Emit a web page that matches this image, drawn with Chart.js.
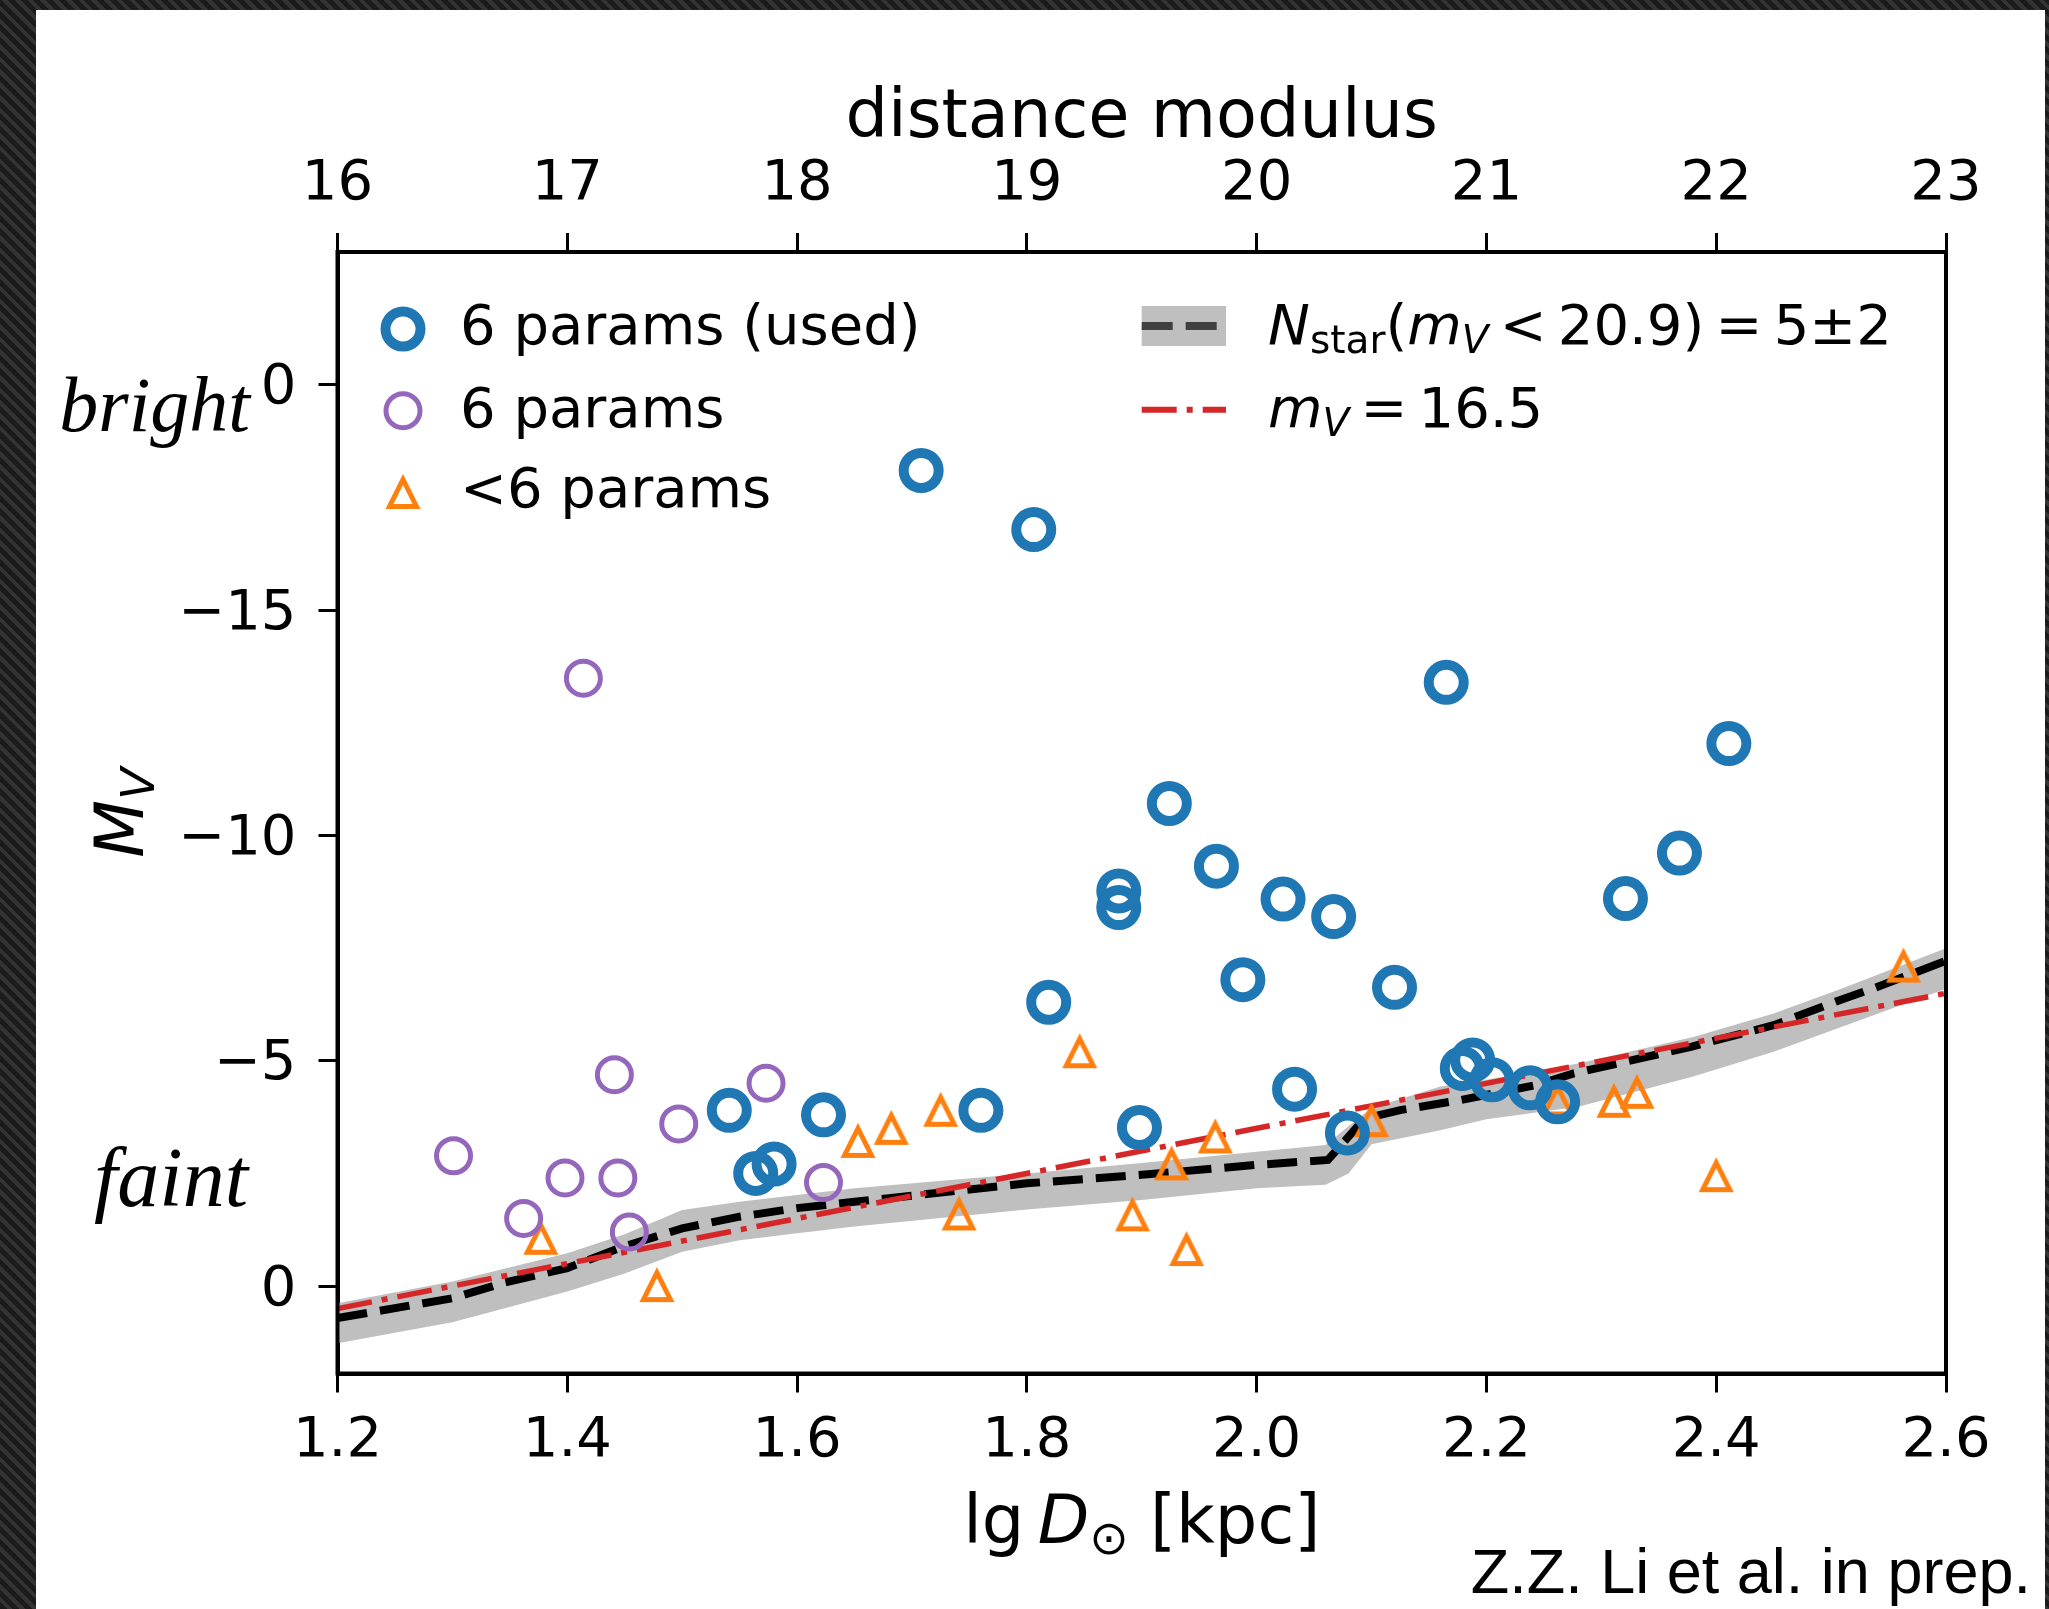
<!DOCTYPE html>
<html>
<head>
<meta charset="utf-8">
<script src="https://cdn.jsdelivr.net/npm/chart.js@4.4.0/dist/chart.umd.min.js"></script>
<style>
  html, body { margin: 0; padding: 0; }
  body {
    width: 2049px; height: 1609px; overflow: hidden;
    background: repeating-linear-gradient(45deg, #1b1b1b 0 5px, #333 5px 9px);
  }
  #wrap { position: absolute; left: 36px; top: 10px; width: 2009px; height: 1599px; background: #fff; }
</style>
</head>
<body>
<div id="wrap"><canvas id="mvChart" width="2009" height="1599"></canvas></div>
<script>
// satellites: lg D (kpc) and absolute magnitude M_V
const usedLgD = [1.708, 1.806, 2.165, 2.411, 1.924, 1.965, 2.368, 1.880, 1.880, 2.023, 2.067, 2.321, 1.988, 2.120,
                 1.819, 1.541, 1.623, 1.760, 1.564, 1.580, 1.898, 2.033, 2.079, 2.179, 2.188, 2.205, 2.238, 2.262];
const usedMV  = [-18.10, -16.79, -13.40, -12.04, -10.71, -9.32, -9.61, -8.77, -8.40, -8.59, -8.20, -8.60, -6.80, -6.63,
                 -6.30, -3.90, -3.80, -3.90, -2.50, -2.71, -3.52, -4.37, -3.40, -4.83, -5.02, -4.58, -4.40, -4.09];

const sixLgD = [1.301, 1.441, 1.497, 1.573, 1.398, 1.444, 1.362, 1.454, 1.623, 1.414];
const sixMV  = [-2.89, -4.69, -3.60, -4.50, -2.40, -2.40, -1.50, -1.20, -2.30, -13.49];

const fewLgD = [1.377, 1.478, 1.653, 1.682, 1.725, 1.741, 1.846, 1.892, 1.926, 1.939, 1.964, 2.100, 2.262, 2.311, 2.331, 2.400, 2.563];
const fewMV  = [-1.05, 0.00, -3.20, -3.49, -3.89, -1.59, -5.19, -1.57, -2.70, -0.80, -3.30, -3.66, -4.12, -4.09, -4.29, -2.44, -7.09];

// N_star(m_V < 20.9) = 5 curve and its +-2 band
const nstarLgD = [1.2, 1.3, 1.346, 1.4, 1.447, 1.5, 1.55, 1.6, 1.65, 1.8, 1.9, 2.0, 2.062, 2.094, 2.126, 2.178, 2.243,
                  2.276, 2.378, 2.45, 2.508, 2.537, 2.6];
const nstarMV  = [0.71, 0.27, -0.08, -0.40, -0.86, -1.28, -1.54, -1.73, -1.87, -2.28, -2.47, -2.69, -2.80, -3.72, -3.91, -4.13, -4.46,
                  -4.72, -5.31, -5.79, -6.35, -6.61, -7.22];
const bandLgD    = [1.2, 1.3, 1.4, 1.45, 1.5, 1.55, 1.6, 1.65, 1.8, 1.9, 2.0, 2.06, 2.08, 2.1, 2.16, 2.2, 2.28, 2.38, 2.45, 2.51, 2.6];
const bandBright = [0.38, -0.10, -0.73, -1.15, -1.69, -1.87, -2.02, -2.17, -2.50, -2.73, -2.98, -3.13, -3.55, -3.95, -4.43, -4.58, -4.94, -5.53, -6.05, -6.61, -7.50];
const bandFaint  = [1.27, 0.80, 0.12, -0.28, -0.76, -1.02, -1.17, -1.32, -1.70, -1.91, -2.17, -2.25, -2.50, -3.15, -3.46, -3.70, -3.98, -4.65, -5.20, -5.76, -6.60];

// m_V = 16.5 limit
const limLgD = [1.2, 2.6];
const limMV  = [0.5, -6.5];

const xTicks  = [1.2, 1.4, 1.6, 1.8, 2.0, 2.2, 2.4, 2.6];
const dmTicks = [16, 17, 18, 19, 20, 21, 22, 23];
const yTicks  = [-20, -15, -10, -5, 0];

const pts = (xs, ys) => xs.map((x, i) => ({ x: x, y: ys[i] }));

function makeTriangle() {
  const c = document.createElement('canvas');
  c.width = 48; c.height = 48;
  const g = c.getContext('2d');
  g.strokeStyle = '#ff7f0e';
  g.lineWidth = 5;
  g.lineJoin = 'miter';
  g.beginPath();
  g.moveTo(24, 24 - 13.5);
  g.lineTo(24 + 13.5, 24 + 13.5);
  g.lineTo(24 - 13.5, 24 + 13.5);
  g.closePath();
  g.stroke();
  return c;
}
const triangle = makeTriangle();

// text with italic parts and subscripts, like matplotlib mathtext
function richText(ctx, parts, x, y, size, align) {
  const fonts = parts.map(p => {
    const sub = p[1].indexOf('s') >= 0, it = p[1].indexOf('i') >= 0;
    return (it ? 'italic ' : '') + Math.round(sub ? size * 0.7 : size) + 'px "DejaVu Sans"';
  });
  const widths = parts.map((p, i) => { ctx.font = fonts[i]; return ctx.measureText(p[0]).width; });
  const total = widths.reduce((a, b) => a + b, 0);
  let cx = align === 'center' ? x - total / 2 : x;
  ctx.textAlign = 'left';
  ctx.textBaseline = 'alphabetic';
  parts.forEach((p, i) => {
    ctx.font = fonts[i];
    const dy = p[1].indexOf('s') >= 0 ? size * 0.16 : 0;
    ctx.fillText(p[0], cx, y + dy);
    cx += widths[i];
  });
}

const decorations = {
  id: 'decorations',
  afterDraw(chart) {
    const ctx = chart.ctx, a = chart.chartArea;
    const midX = (a.left + a.right) / 2, midY = (a.top + a.bottom) / 2;
    ctx.save();
    ctx.fillStyle = '#000';

    // frame
    ctx.strokeStyle = '#000';
    ctx.lineWidth = 4;
    ctx.strokeRect(a.left, a.top, a.right - a.left, a.bottom - a.top);

    // axis titles
    richText(ctx, [['distance modulus', '']], midX, 126.7, 67, 'center');
    richText(ctx, [['lg', ''], ['\u2009', ''], ['D', 'i'], ['\u2299', 's'], [' [kpc]', '']], midX, 1533, 67, 'center');
    ctx.save();
    ctx.translate(107, midY);
    ctx.rotate(-Math.PI / 2);
    richText(ctx, [['M', 'i'], ['V', 'si']], 0, 0, 67, 'center');
    ctx.restore();

    // bright / faint, the white box hides part of the top tick label
    const ys = chart.scales.y;
    const labRight = ys.right - 19 - 22;
    ctx.font = '56px "DejaVu Sans"';
    const w0 = ctx.measureText('0').width;
    const yTop = ys.getPixelForValue(-20);
    ctx.fillStyle = '#fff';
    ctx.fillRect(0, yTop - 40, labRight - w0 - 2, 80);
    ctx.fillStyle = '#000';
    ctx.font = 'italic 78px "Liberation Serif"';
    ctx.textAlign = 'right';
    ctx.textBaseline = 'alphabetic';
    ctx.fillText('bright', 214, 421);
    ctx.font = 'italic 84px "Liberation Serif"';
    ctx.fillText('faint', 212, 1196);

    // credit
    ctx.font = '63px "Liberation Sans"';
    ctx.fillText('Z.Z. Li et al. in prep.', 1995, 1583);

    // legend, left column
    const lx = 367, tx = 424;
    ctx.lineWidth = 10;
    ctx.strokeStyle = '#1f77b4';
    ctx.beginPath(); ctx.arc(lx, 319, 17.5, 0, Math.PI * 2); ctx.stroke();
    ctx.lineWidth = 5;
    ctx.strokeStyle = '#9467bd';
    ctx.beginPath(); ctx.arc(lx, 400.7, 17, 0, Math.PI * 2); ctx.stroke();
    ctx.drawImage(triangle, lx - 24, 483 - 24);
    ctx.fillStyle = '#000';
    richText(ctx, [['6 params (used)', '']], tx, 334, 56, 'left');
    richText(ctx, [['6 params', '']], tx, 416.7, 56, 'left');
    richText(ctx, [['<6 params', '']], tx, 496.7, 56, 'left');

    // legend, right column
    ctx.fillStyle = '#bfbfbf';
    ctx.fillRect(1105.7, 296, 84.3, 40);
    ctx.strokeStyle = '#404040';
    ctx.lineWidth = 8;
    ctx.setLineDash([31, 13]);
    ctx.beginPath(); ctx.moveTo(1105.7, 316); ctx.lineTo(1190, 316); ctx.stroke();
    ctx.strokeStyle = '#d62728';
    ctx.lineWidth = 6;
    ctx.setLineDash([35, 10, 6, 10]);
    ctx.beginPath(); ctx.moveTo(1105.7, 399.7); ctx.lineTo(1190, 399.7); ctx.stroke();
    ctx.setLineDash([]);
    ctx.fillStyle = '#000';
    const th = '\u2009';
    richText(ctx, [['N', 'i'], ['star', 's'], ['(', ''], ['m', 'i'], ['V', 'si'], [th + '<' + th + '20.9)' + th + '=' + th + '5\u00b12', '']], 1232, 334, 56, 'left');
    richText(ctx, [['m', 'i'], ['V', 'si'], [th + '=' + th + '16.5', '']], 1232, 416.7, 56, 'left');
    ctx.restore();
  }
};

const tickFont = { family: 'DejaVu Sans', size: 56 };
const gridOpts = { display: true, drawOnChartArea: false, drawTicks: true, tickLength: 19, tickWidth: 3, lineWidth: 3, color: '#000' };
const borderOpts = { display: true, color: '#000', width: 4 };

new Chart(document.getElementById('mvChart').getContext('2d'), {
  type: 'scatter',
  data: {
    datasets: [
      { label: '6 params (used)', data: pts(usedLgD, usedMV), order: 0,
        pointStyle: 'circle', pointRadius: 17.5, borderWidth: 10, borderColor: '#1f77b4', backgroundColor: 'rgba(0,0,0,0)' },
      { label: '6 params', data: pts(sixLgD, sixMV), order: 1,
        pointStyle: 'circle', pointRadius: 17, borderWidth: 5, borderColor: '#9467bd', backgroundColor: 'rgba(0,0,0,0)' },
      { label: '<6 params', data: pts(fewLgD, fewMV), order: 2,
        pointStyle: triangle, pointRadius: 18 },
      { type: 'line', label: 'm_V = 16.5', data: pts(limLgD, limMV), order: 3,
        borderColor: '#d62728', borderWidth: 5.5, borderDash: [35, 10, 6, 10], pointRadius: 0, fill: false, tension: 0 },
      { type: 'line', label: 'N_star = 5', data: pts(nstarLgD, nstarMV), order: 4,
        borderColor: '#000', borderWidth: 8, borderDash: [30, 13], pointRadius: 0, fill: false, tension: 0 },
      { type: 'line', label: 'N_star = 7', data: pts(bandLgD, bandBright), order: 5,
        borderColor: 'rgba(0,0,0,0)', borderWidth: 1, pointRadius: 0, fill: false, tension: 0 },
      { type: 'line', label: 'N_star = 3', data: pts(bandLgD, bandFaint), order: 6,
        borderColor: 'rgba(0,0,0,0)', borderWidth: 1, pointRadius: 0, fill: '-1', backgroundColor: '#bfbfbf', tension: 0 }
    ]
  },
  options: {
    responsive: false,
    devicePixelRatio: 1,
    animation: false,
    events: [],
    layout: { padding: { left: 0, top: 0, right: 99, bottom: 0 } },
    plugins: { legend: { display: false }, tooltip: { enabled: false } },
    scales: {
      x: {
        type: 'linear', position: 'bottom', min: 1.2, max: 2.6,
        afterBuildTicks: s => { s.ticks = xTicks.map(v => ({ value: v })); },
        afterFit: s => { s.height = 235.5; },
        ticks: { font: tickFont, color: '#000', padding: 15, maxRotation: 0, autoSkip: false, callback: v => v.toFixed(1) },
        grid: gridOpts, border: borderOpts
      },
      x2: {
        type: 'linear', axis: 'x', position: 'top', min: 16, max: 23,
        afterBuildTicks: s => { s.ticks = dmTicks.map(v => ({ value: v })); },
        afterFit: s => { s.height = 242; },
        ticks: { font: tickFont, color: '#000', padding: 15, maxRotation: 0, autoSkip: false, callback: v => String(v) },
        grid: gridOpts, border: borderOpts
      },
      y: {
        type: 'linear', position: 'left', reverse: true, min: -22.95, max: 1.94,
        afterBuildTicks: s => { s.ticks = yTicks.map(v => ({ value: v })); },
        afterFit: s => { s.width = 301.5; },
        ticks: { font: tickFont, color: '#000', padding: 22, autoSkip: false, labelOffset: 4,
                 callback: v => (v < 0 ? '\u2212' : '') + Math.abs(v) },
        grid: gridOpts, border: borderOpts
      }
    }
  },
  plugins: [decorations]
});
</script>
</body>
</html>
